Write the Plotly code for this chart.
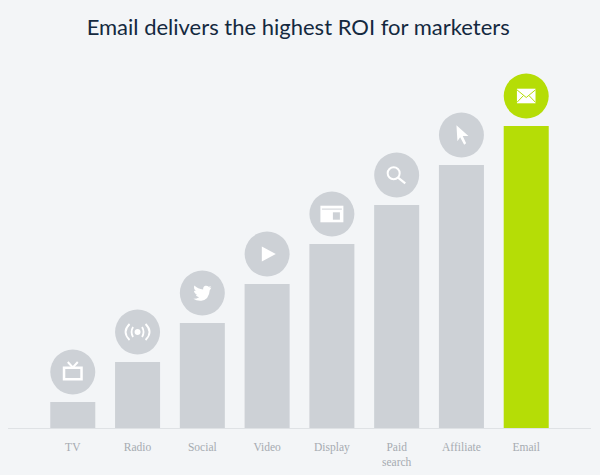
import plotly.graph_objects as go

# bar heights (no value axis in the original)
categories = ["TV", "Radio", "Social", "Video", "Display", "Paid<br>search", "Affiliate", "Email"]
values = [26, 66, 105, 144, 184, 223, 263, 302]
icon_names = ["tv", "radio", "twitter", "play", "window", "search", "cursor", "mail"]

BG = "#f3f5f7"
GREY = "#cdd1d6"
GREEN = "#b5dd06"
WHITE = "#ffffff"

# icon drawn around the circle centre, in pixels, y up: (path, fill, line width, colour)
icons = {
    "tv": [
        ("M-8.75,4.25 L8.75,4.25 L8.75,-7.25 L-8.75,-7.25 Z", None, 2.5, WHITE),
        ("M-5,10 L0,4.5 L5,10", None, 2, WHITE),
    ],
    "radio": [
        ("M3,0 C3,1.7 1.7,3 0,3 C-1.7,3 -3,1.7 -3,0 C-3,-1.7 -1.7,-3 0,-3 C1.7,-3 3,-1.7 3,0 Z", WHITE, 0, WHITE),
        ("M-4.5,5 Q-7.5,0 -4.5,-5", None, 1.8, WHITE),
        ("M4.5,5 Q7.5,0 4.5,-5", None, 1.8, WHITE),
        ("M-8,8 Q-16,0 -8,-8", None, 1.8, WHITE),
        ("M8,8 Q16,0 8,-8", None, 1.8, WHITE),
    ],
    "twitter": [
        ("M9,5.5 Q8,5.2 7,5 Q8.3,5.8 8.6,7 Q7.5,6.4 6.4,6.2 Q5,7.5 3,7.2 Q0.6,6.5 0.8,3.4 "
         "Q-4.5,3.8 -8,7.4 Q-9,4 -6.6,2 Q-7.5,2.1 -8.4,2.6 Q-8.2,-0.6 -5.2,-1.4 Q-6,-1.7 -6.9,-1.6 "
         "Q-6,-4 -3.2,-4.2 Q-5.8,-6 -9,-5.8 Q-5.5,-8.2 -1,-7.8 Q6.8,-6.5 7.4,2.8 Q8.4,4 9,5.5 Z", WHITE, 0, WHITE),
    ],
    "play": [("M-5.3,7.5 L8.7,0 L-5.3,-7.5 Z", WHITE, 0, WHITE)],
    "window": [
        ("M-11.5,8.3 L11.5,8.3 L11.5,-8.3 L-11.5,-8.3 Z", WHITE, 0, WHITE),
        ("M-10,4.9 L10,4.9", None, 1, GREY),
        ("M1,1.7 L8,1.7 L8,-5.7 L1,-5.7 Z", GREY, 0, GREY),
    ],
    "search": [
        ("M3,1.7 C3,5 0.3,7.7 -3,7.7 C-6.3,7.7 -9,5 -9,1.7 C-9,-1.6 -6.3,-4.3 -3,-4.3 C0.3,-4.3 3,-1.6 3,1.7 Z", None, 2, WHITE),
        ("M1.4,-2.6 L8.6,-8.3", None, 2.2, WHITE),
    ],
    "cursor": [
        ("M-5,9.7 L-4,-6.3 L-1.3,-2.3 L2.7,-9.7 L4.7,-8.3 L1.3,-1 L7,-1 Z", WHITE, 0, WHITE),
    ],
    "mail": [
        ("M-9.3,7.3 L9.3,7.3 L9.3,-7.3 L-9.3,-7.3 Z", WHITE, 0, WHITE),
        ("M-9.3,6.2 L0,-1.5 L9.3,6.2", None, 1, GREEN),
        ("M-9.3,-6.4 L-2.8,0.4", None, 1, GREEN),
        ("M9.3,-6.4 L2.8,0.4", None, 1, GREEN),
    ],
}

x_pos = list(range(len(categories)))
colors = [GREY] * 7 + [GREEN]
circle_y = [v + 30 for v in values]

fig = go.Figure()
fig.add_trace(go.Bar(x=x_pos, y=values, width=0.695, marker=dict(color=colors, line_width=0), hoverinfo="skip"))
fig.add_trace(go.Scatter(x=x_pos, y=circle_y, mode="markers", cliponaxis=False, hoverinfo="skip",
                         marker=dict(size=45, color=colors, line_width=0)))

for x, y, name in zip(x_pos, circle_y, icon_names):
    for path, fill, width, color in icons[name]:
        fig.add_shape(type="path", xref="x", yref="y", xsizemode="pixel", ysizemode="pixel",
                      xanchor=x, yanchor=y, path=path,
                      fillcolor=fill if fill else "rgba(0,0,0,0)",
                      line=dict(color=color, width=width))

fig.update_layout(
    width=600, height=475,
    margin=dict(l=8, r=9, t=40, b=47),
    paper_bgcolor=BG, plot_bgcolor=BG,
    showlegend=False,
    title=dict(text="Email delivers the highest ROI for marketers", x=0.497, xanchor="center",
               y=0.943, yanchor="middle", font=dict(family="Lato", size=22, color="#14293f")),
    xaxis=dict(range=[-1, 8], tickmode="array", tickvals=x_pos, ticktext=categories, showgrid=False,
               zeroline=False, showline=True, linecolor="#dfe2e5", linewidth=1, ticks="", ticklabelstandoff=8,
               tickfont=dict(family="Liberation Serif", size=11.5, color="#a6abb1"), tickangle=0),
    yaxis=dict(range=[0, 388], visible=False),
)

# browser default body margin would push the chart off by 8px
fig.write_html("out.html", config=dict(displayModeBar=False),
               post_script="document.body.style.margin='0';document.body.style.overflow='hidden';")
